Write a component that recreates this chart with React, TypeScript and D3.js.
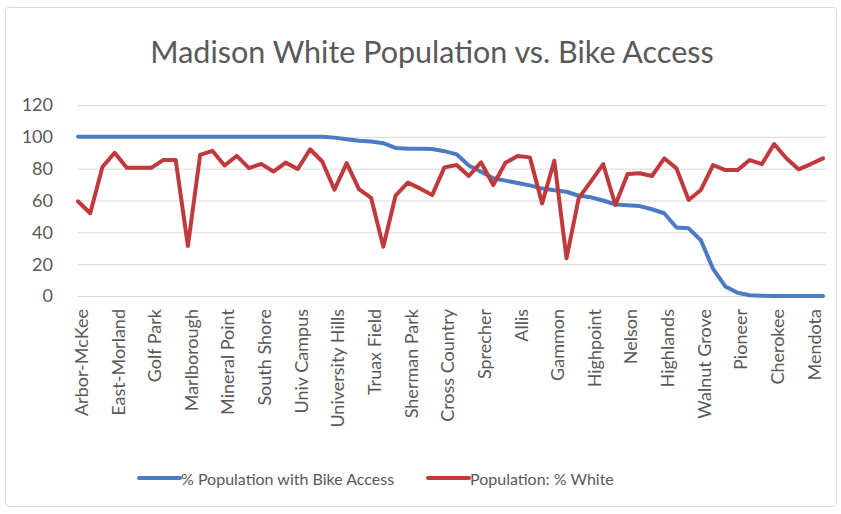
import React from "react";
import * as d3 from "d3";

// Axis tick labels (every third neighbourhood is labelled)
const tickLabels: string[] = [
  "Arbor-McKee", "East-Morland", "Golf Park", "Marlborough", "Mineral Point",
  "South Shore", "Univ Campus", "University Hills", "Truax Field", "Sherman Park",
  "Cross Country", "Sprecher", "Allis", "Gammon", "Highpoint", "Nelson",
  "Highlands", "Walnut Grove", "Pioneer", "Cherokee", "Mendota",
];
const labelEvery = 3;

// % Population with Bike Access, one value per neighbourhood (62)
const bikeAccess: number[] = [
  100, 100, 100, 100, 100, 100, 100, 100, 100, 100,
  100, 100, 100, 100, 100, 100, 100, 100, 100, 100,
  100, 99.5, 98.5, 97.5, 97, 96, 93, 92.5, 92.5, 92.3,
  91, 89, 82, 78, 74, 72.5, 71, 69.5, 67.5, 66.5,
  65.5, 63, 62, 60, 57.5, 57, 56.5, 54.5, 52, 43,
  42.5, 35, 17, 6, 2, 0.5, 0.2, 0, 0, 0,
  0, 0,
];

// Population: % White, one value per neighbourhood (62)
const pctWhite: number[] = [
  59.5, 52, 81, 90, 80.5, 80.5, 80.5, 85.5, 85.5, 31.5,
  88.6, 91.2, 82, 88, 80.3, 83, 78.2, 83.8, 79.8, 92.2,
  84.5, 66.8, 83.5, 67.2, 61.6, 31, 63, 71.2, 67.6, 63.4,
  80.8, 82.3, 75.4, 84, 69.7, 83.7, 87.9, 87.1, 58.2, 85,
  23.7, 61.5, 72, 82.9, 57.2, 76.6, 77.1, 75.4, 86.5, 80.2,
  60.3, 66.6, 82.3, 79.1, 79.1, 85.4, 82.9, 95.5, 86.5, 79.6,
  82.9, 86.5,
];

const yTicks: number[] = [0, 20, 40, 60, 80, 100, 120];

const seriesNames = ["% Population with Bike Access", "Population: % White"];

const W = 841;
const H = 514;
const FONT = "Lato, 'Open Sans', sans-serif";
const TEXT = "#595959";
const GRID = "#D9D9D9";
const BLUE = "#4A7BC3";
const RED = "#C0393D";

export default function App() {
  const n = bikeAccess.length;
  const x = d3.scaleLinear().domain([0, n - 1]).range([78, 823]);
  const y = d3.scaleLinear().domain([0, 120]).range([296, 105]);

  const line = d3
    .line<number>()
    .x((_, i) => x(i))
    .y((d) => y(d));

  const gridX0 = 77;
  const gridX1 = 826;

  return (
    <svg
      width={W}
      height={H}
      style={{ position: "absolute", left: 0, top: 0, background: "#fff" }}
      fontFamily={FONT}
    >
      <rect x={5.5} y={7.5} width={831} height={499} rx={3} fill="#fff" stroke={GRID} />

      <text x={432} y={63} textAnchor="middle" fontSize={30.5} fill={TEXT}>
        Madison White Population vs. Bike Access
      </text>

      {/* horizontal gridlines and value axis labels */}
      {yTicks.map((t) => (
        <g key={t}>
          <line x1={gridX0} x2={gridX1} y1={y(t) + 0.5} y2={y(t) + 0.5} stroke={GRID} strokeWidth={1} />
          <text x={53} y={y(t)} dy="0.36em" textAnchor="end" fontSize={18} fill={TEXT}>
            {t}
          </text>
        </g>
      ))}

      {/* category labels */}
      {tickLabels.map((lab, j) => {
        const xi = x(j * labelEvery);
        return (
          <text
            key={lab}
            transform={`translate(${xi},309) rotate(-90)`}
            dy="0.55em"
            textAnchor="end"
            fontSize={18}
            fill={TEXT}
          >
            {lab}
          </text>
        );
      })}

      <path d={line(bikeAccess) || ""} fill="none" stroke={BLUE} strokeWidth={4} strokeLinejoin="round" strokeLinecap="round" />
      <path d={line(pctWhite) || ""} fill="none" stroke={RED} strokeWidth={4} strokeLinejoin="round" strokeLinecap="round" />

      {/* legend */}
      <g>
        <line x1={139} x2={180} y1={478} y2={478} stroke={BLUE} strokeWidth={4} strokeLinecap="round" />
        <text x={181} y={485} fontSize={16} fill={TEXT}>{seriesNames[0]}</text>
        <line x1={428} x2={469} y1={478} y2={478} stroke={RED} strokeWidth={4} strokeLinecap="round" />
        <text x={470} y={485} fontSize={16} fill={TEXT}>{seriesNames[1]}</text>
      </g>
    </svg>
  );
}
